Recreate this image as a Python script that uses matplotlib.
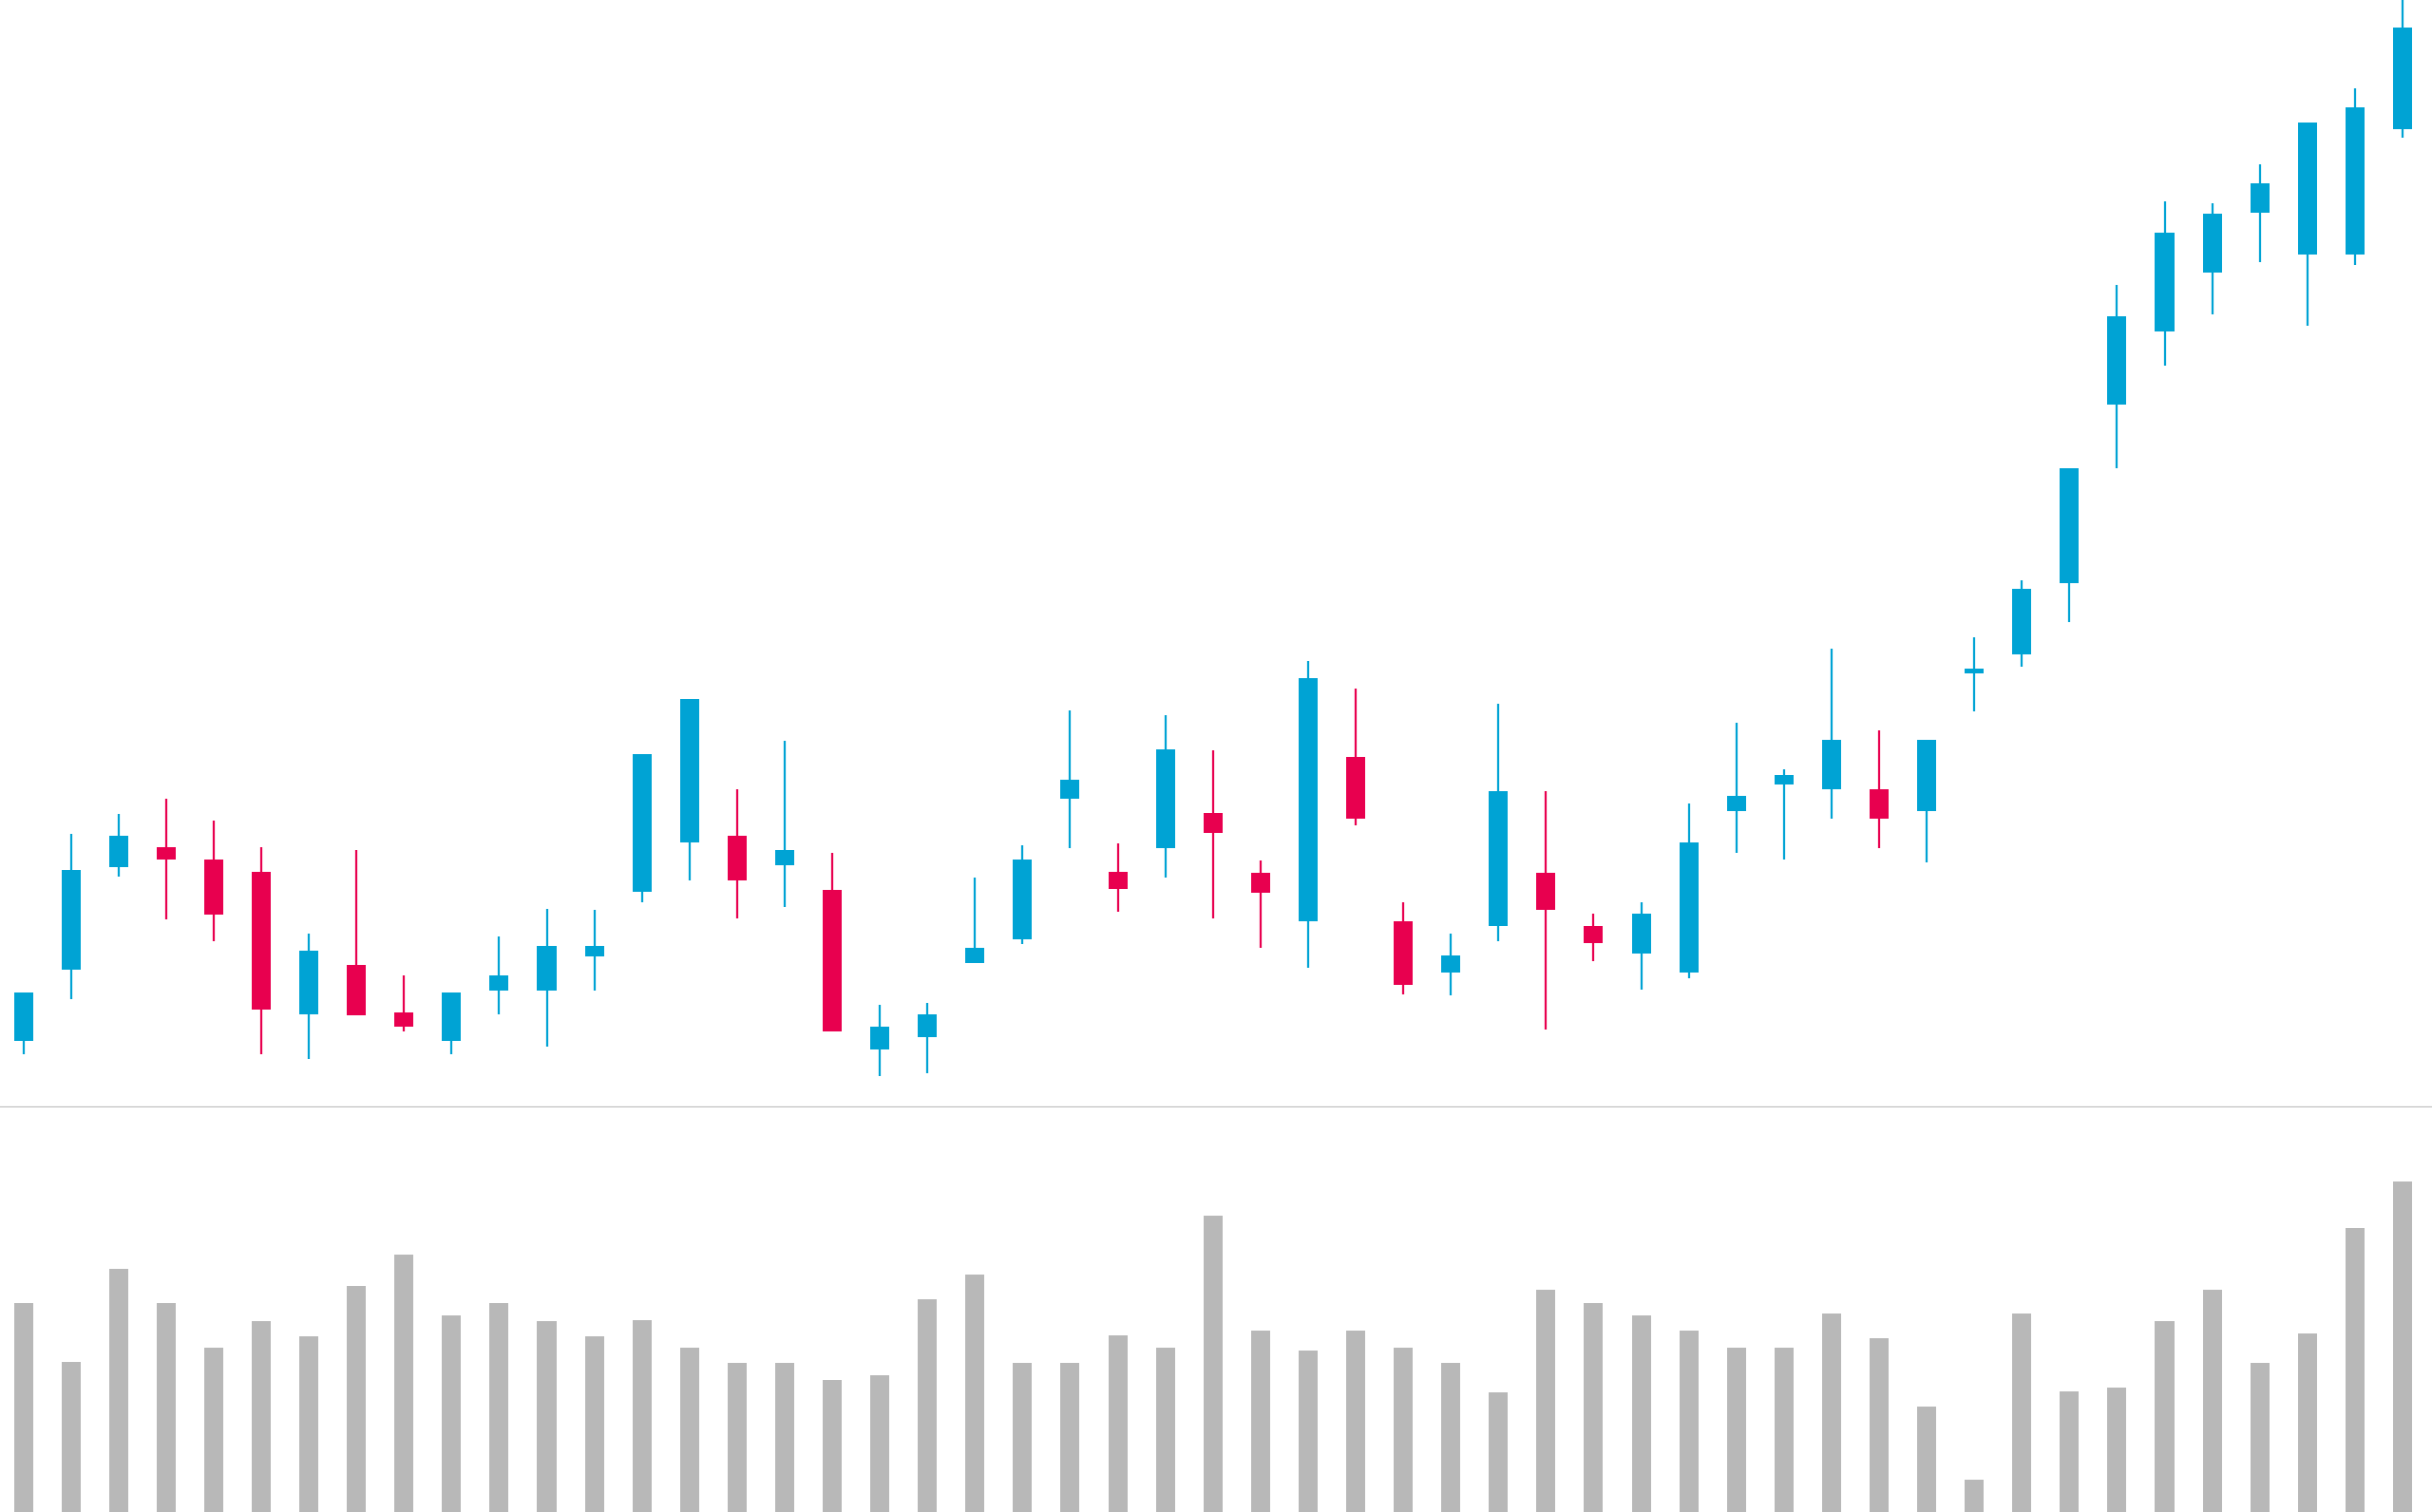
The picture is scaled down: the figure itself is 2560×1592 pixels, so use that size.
import numpy as np
import matplotlib
matplotlib.use("Agg")
import matplotlib.pyplot as plt

# OHLC data (one row per session)
opens = [43, 89, 155, 168, 160, 152, 60, 92, 61, 43, 75, 75, 97, 139, 171, 175, 156,
         140, 37, 45, 93, 108, 199, 152, 167, 190, 151, 120, 226, 120, 87, 117, 151,
         117, 99, 87, 191, 208, 205, 205, 191, 280, 292, 338, 453, 500, 538, 577, 550,
         550, 631]
highs = [74, 176, 189, 199, 185, 168, 112, 166, 85, 74, 110, 128, 127, 228, 263, 205, 236,
         164, 66, 67, 148, 169, 256, 170, 253, 230, 159, 288, 270, 132, 112, 260, 204,
         125, 132, 196, 248, 218, 296, 243, 237, 303, 340, 412, 530, 584, 583, 608, 635,
         657, 714]
lows = [34, 70, 149, 121, 107, 34, 31, 59, 49, 34, 60, 39, 75, 132, 146, 122, 129,
        49, 20, 22, 93, 105, 167, 126, 148, 122, 103, 90, 182, 73, 72, 107, 50,
        94, 76, 83, 164, 160, 186, 167, 158, 255, 284, 313, 412, 478, 511, 545, 504,
        543, 625]
closes = [74, 153, 175, 160, 124, 63, 101, 59, 52, 74, 85, 104, 104, 228, 263, 146, 166,
          49, 52, 60, 103, 160, 211, 141, 231, 177, 138, 277, 186, 79, 98, 204, 127,
          106, 125, 171, 201, 214, 237, 186, 237, 283, 334, 412, 510, 564, 576, 596, 635,
          645, 696]
volumes = [135, 97, 157, 135, 106, 123, 113, 146, 166, 127, 135, 123, 113, 124, 106, 96, 96,
           85, 88, 137, 153, 96, 96, 114, 106, 191, 117, 104, 117, 106, 96, 77, 143,
           135, 127, 117, 106, 106, 128, 112, 68, 21, 128, 78, 80, 123, 143, 96, 115,
           183, 213]

UP = "#00A3D4"
DOWN = "#E8004F"
VOL = "#B8B8B8"

o = np.array(opens)
h = np.array(highs)
l = np.array(lows)
c = np.array(closes)
x = np.arange(len(o))
colors = [UP if cc >= oo else DOWN for oo, cc in zip(o, c)]

fig = plt.figure(figsize=(12.8, 7.96), dpi=200)
split = 0.2677
ax = fig.add_axes([0, split, 1, 1 - split])
axv = fig.add_axes([0, 0, 1, split])

# candles
ax.vlines(x, l, h, colors=colors, linewidth=0.8, zorder=1)
ax.bar(x, np.abs(c - o), bottom=np.minimum(o, c), width=0.4, color=colors,
       linewidth=0, zorder=2)
ax.set_xlim(-0.49, 50.62)
ax.set_ylim(0, 714)

# volume
axv.bar(x, volumes, width=0.4, color=VOL, linewidth=0)
axv.set_xlim(-0.49, 50.62)
axv.set_ylim(0, 261)

for a in (ax, axv):
    a.set_xticks([])
    a.set_yticks([])
    for s in a.spines.values():
        s.set_visible(False)
ax.spines["bottom"].set_visible(True)
ax.spines["bottom"].set_color("#BDBDBD")
ax.spines["bottom"].set_linewidth(0.8)

fig.savefig("out.png", dpi=200, facecolor="white")
